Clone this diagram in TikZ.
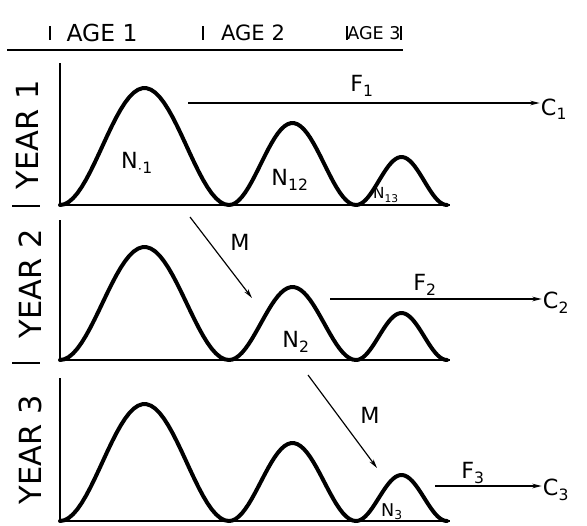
\documentclass[tikz,border=0pt]{standalone}
\usepackage{fontspec}
\setmainfont{DejaVu Sans}
\usetikzlibrary{arrows.meta}

\begin{document}
\begin{tikzpicture}[x=0.03cm, y=-0.03cm,
  hump/.style={line width=3.4pt, line join=round, line cap=round},
  axis/.style={line width=1.6pt},
  flow/.style={line width=1pt, -{Stealth[length=8pt, width=4pt]}},
  lab/.style={font=\fontsize{19}{22}\selectfont, inner sep=1pt},
  yearlab/.style={font=\fontsize{26}{30}\selectfont, rotate=90, inner sep=0pt},
  agelab/.style={font=\fontsize{20}{22}\selectfont, inner sep=0pt}]

  \useasboundingbox (0,0) rectangle (587,525);

  % Ages
  \draw[axis] (7,50) -- (403,50);
  \foreach \x in {50,203,347,401} {
    \draw[line width=1pt] (\x,26) -- (\x,40);
  }
  \node[agelab] (age1) at (102,33) {AGE 1};
  \node[agelab, font=\fontsize{18}{20}\selectfont] (age2) at (253,33) {AGE 2};
  \node[agelab, font=\fontsize{15}{17}\selectfont] (age3) at (374,33) {AGE 3};

  % Years : curves
  \foreach \n/\top/\base/\ha/\hb/\hc in {1/63/205/117/82/48, 2/220/360/113/73/47, 3/378/521/117/78/46} {
    \draw[axis] (60,\top) -- (60,\base) -- (450,\base);
    \draw[hump] plot[domain=0:1, samples=40] ({60+169*\x}, {\base-\ha*(1-cos(360*\x))/2})
      -- plot[domain=0:1, samples=40] ({229+127*\x}, {\base-\hb*(1-cos(360*\x))/2})
      -- plot[domain=0:1, samples=40] ({356+91*\x}, {\base-\hc*(1-cos(360*\x))/2});
  }
  \node[yearlab] (year1) at (27,135) {YEAR 1};
  \node[yearlab] (year2) at (30,284) {YEAR 2};
  \node[yearlab] (year3) at (30,450) {YEAR 3};
  \draw[line width=1pt] (12,206) -- (40,206);
  \draw[line width=1pt] (12,363) -- (40,363);

  % Year 1
  \node[lab] (n11) at (137,163) {N\textsubscript{$\cdot$1}};
  \node[lab] (n12) at (290,180) {N\textsubscript{12}};
  \node[lab, font=\fontsize{13}{15}\selectfont] (n13) at (386,195) {N\textsubscript{13}};
  \coordinate (f1) at (188,103);
  \node[lab] (c1) at (554,109) {C\textsubscript{1}};
  \draw[flow] (f1) -- (f1 -| c1.west);
  \node[lab] (lf1) at (362,86) {F\textsubscript{1}};

  % Year 2
  \coordinate (m2s) at (190,217);
  \coordinate (m2e) at (252,298);
  \draw[flow] (m2s) -- (m2e);
  \node[lab] (lm2) at (240,242) {M};
  \node[lab] (n2) at (296,342) {N\textsubscript{2}};
  \coordinate (f2) at (330,299);
  \node[lab] (c2) at (556,303) {C\textsubscript{2}};
  \draw[flow] (f2) -- (f2 -| c2.west);
  \node[lab] (lf2) at (425,285) {F\textsubscript{2}};

  % Year 3
  \coordinate (m3s) at (308,375);
  \coordinate (m3e) at (377,468);
  \draw[flow] (m3s) -- (m3e);
  \node[lab] (lm3) at (370,415) {M};
  \node[lab, font=\fontsize{15}{17}\selectfont] (n3) at (392,512) {N\textsubscript{3}};
  \coordinate (f3) at (435,486);
  \node[lab] (c3) at (556,490) {C\textsubscript{3}};
  \draw[flow] (f3) -- (f3 -| c3.west);
  \node[lab] (lf3) at (473,473) {F\textsubscript{3}};

\end{tikzpicture}
\end{document}
